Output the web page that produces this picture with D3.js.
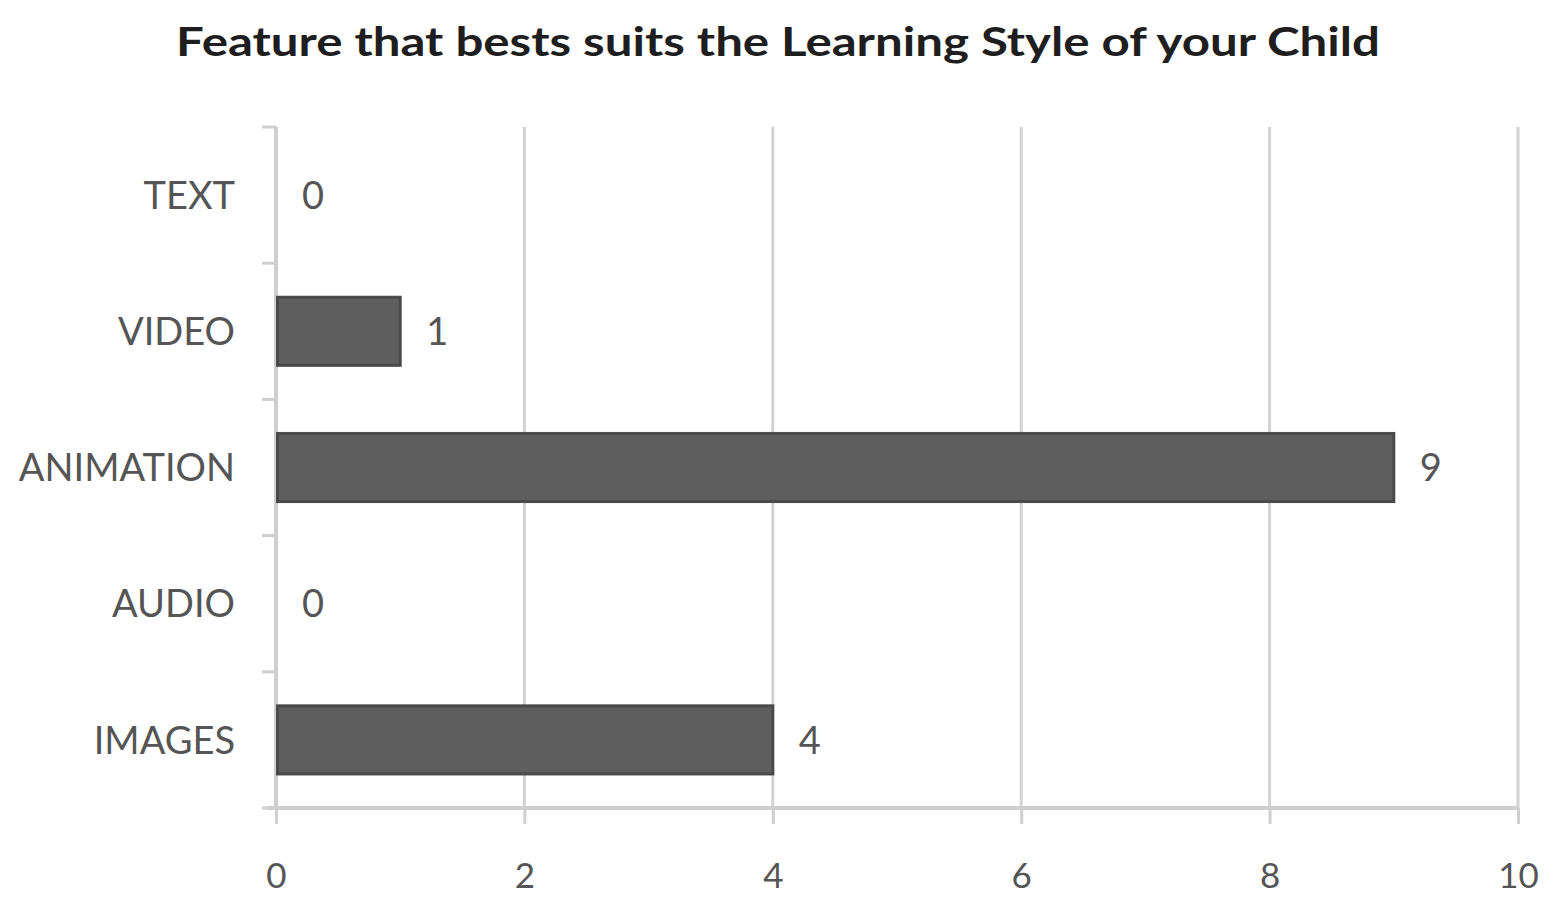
<!DOCTYPE html>
<html>
<head>
<meta charset="utf-8">
<script src="https://cdn.jsdelivr.net/npm/d3@7"></script>
<style>
  html, body { margin: 0; padding: 0; background: #ffffff; }
  svg { display: block; }
</style>
</head>
<body>
<svg id="chart" width="1546" height="899"></svg>
<script>
// Survey answers: which feature best suits the child's learning style
const categories = ["TEXT", "VIDEO", "ANIMATION", "AUDIO", "IMAGES"];
const counts = [0, 1, 9, 0, 4];
const xTicks = [0, 2, 4, 6, 8, 10];
const chartTitle = "Feature that bests suits the Learning Style of your Child";

const svg = d3.select("#chart");
const W = 1546, H = 899;
const margin = { top: 127, right: 28, bottom: 91, left: 276 };
const innerW = W - margin.left - margin.right;
const innerH = H - margin.top - margin.bottom;

const x = d3.scaleLinear().domain([0, 10]).range([0, innerW]);
const y = d3.scaleBand().domain(categories).range([0, innerH]).paddingInner(0.5).paddingOuter(0.25);

const g = svg.append("g").attr("transform", `translate(${margin.left},${margin.top})`);

// title
svg.append("text")
  .attr("x", 778).attr("y", 56)
  .attr("text-anchor", "middle")
  .attr("font-family", "Lato, 'Open Sans', sans-serif")
  .attr("font-weight", 700)
  .attr("font-size", 41)
  .attr("fill", "#1e1e1e")
  .attr("textLength", 1204)
  .attr("lengthAdjust", "spacingAndGlyphs")
  .text(chartTitle);

// vertical gridlines
g.append("g")
  .selectAll("line")
  .data(xTicks.filter(d => d > 0))
  .join("line")
  .attr("x1", d => x(d)).attr("x2", d => x(d))
  .attr("y1", 0).attr("y2", innerH)
  .attr("stroke", "#d2d2d2").attr("stroke-width", 3);

// x axis
const xAxis = g.append("g")
  .attr("transform", `translate(0,${innerH})`)
  .call(d3.axisBottom(x).tickValues(xTicks).tickSize(16).tickSizeOuter(0).tickPadding(39));
xAxis.select(".domain").attr("stroke", "#cfcfcf").attr("stroke-width", 4)
  .attr("d", `M-10,0H${innerW}`);
xAxis.selectAll(".tick line").attr("stroke", "#cfcfcf").attr("stroke-width", 3);
xAxis.selectAll(".tick text")
  .attr("font-family", "Lato, 'Open Sans', sans-serif")
  .attr("font-size", 35)
  .attr("fill", "#555555");

// y axis: ticks sit on band boundaries
const bandEdges = d3.range(categories.length + 1).map(i => i * y.step());
const yAxisG = g.append("g");
yAxisG.append("line")
  .attr("x1", 0).attr("x2", 0).attr("y1", 0).attr("y2", innerH)
  .attr("stroke", "#cfcfcf").attr("stroke-width", 4);
yAxisG.selectAll("line.tk")
  .data(bandEdges)
  .join("line")
  .attr("class", "tk")
  .attr("x1", -14).attr("x2", 0)
  .attr("y1", d => d).attr("y2", d => d)
  .attr("stroke", "#cfcfcf").attr("stroke-width", 3);
yAxisG.selectAll("text")
  .data(categories)
  .join("text")
  .attr("x", -41)
  .attr("y", d => y(d) + y.bandwidth() / 2)
  .attr("dy", "0.36em")
  .attr("text-anchor", "end")
  .attr("font-family", "Lato, 'Open Sans', sans-serif")
  .attr("font-size", 38)
  .attr("fill", "#555555")
  .text(d => d);

// bars
const rows = categories.map((c, i) => ({ cat: c, value: counts[i] }));
g.append("g")
  .selectAll("rect")
  .data(rows.filter(d => d.value > 0))
  .join("rect")
  .attr("x", 1.5)
  .attr("y", d => y(d.cat))
  .attr("width", d => x(d.value) - 1.5)
  .attr("height", y.bandwidth())
  .attr("fill", "#5e5e5e")
  .attr("stroke", "#4a4a4a")
  .attr("stroke-width", 3);

// value labels
g.append("g")
  .selectAll("text")
  .data(rows)
  .join("text")
  .attr("x", d => x(d.value) + 26)
  .attr("y", d => y(d.cat) + y.bandwidth() / 2)
  .attr("dy", "0.36em")
  .attr("font-family", "Lato, 'Open Sans', sans-serif")
  .attr("font-size", 38)
  .attr("fill", "#555555")
  .text(d => d.value);
</script>
</body>
</html>
